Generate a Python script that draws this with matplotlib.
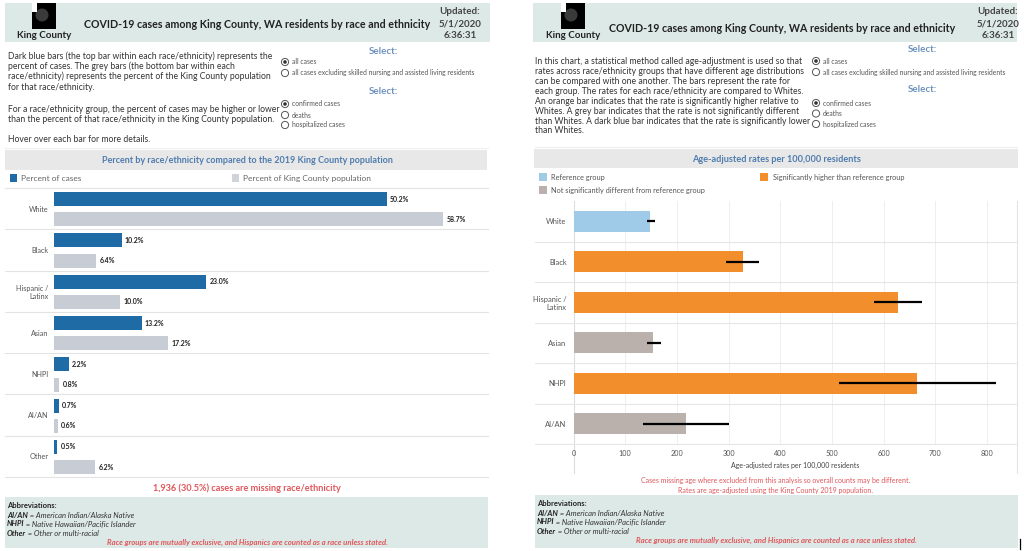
import matplotlib
matplotlib.use("Agg")
import matplotlib.pyplot as plt
from matplotlib.patches import Rectangle, Circle

plt.rcParams["font.family"] = ["Lato", "DejaVu Sans"]

# ---- data ----
groups_pct = ["White", "Black", "Hispanic /\nLatinx", "Asian", "NHPI", "AI/AN", "Other"]
pct_cases = [50.2, 10.2, 23.0, 13.2, 2.2, 0.7, 0.5]
pct_population = [58.7, 6.4, 10.0, 17.2, 0.8, 0.6, 6.2]

groups_rate = ["White", "Black", "Hispanic /\nLatinx", "Asian", "NHPI", "AI/AN"]
rate = [148, 327, 627, 154, 665, 217]
rate_low = [142, 295, 582, 142, 514, 135]
rate_high = [157, 358, 675, 169, 818, 301]
rate_status = ["ref", "higher", "higher", "ns", "higher", "ns"]

rate_ticks = [0, 100, 200, 300, 400, 500, 600, 700, 800]

W, H = 1024, 551
BLUE = "#1f6ba5"
GREY_BAR = "#c7ccd5"
ORANGE = "#f28e2b"
LIGHT_BLUE = "#a0cbe8"
TAUPE = "#bab0ac"
HEADER = "#dde9e6"
BAND = "#e8e8e8"
TITLE_BLUE = "#4f7cae"
SELECT_BLUE = "#6f93bd"
RED = "#e0565b"
TXT = "#333333"
STATUS_COLORS = {"ref": LIGHT_BLUE, "higher": ORANGE, "ns": TAUPE}

fig = plt.figure(figsize=(W / 100, H / 100), dpi=100)
bg = fig.add_axes([0, 0, 1, 1])
bg.set_xlim(0, W)
bg.set_ylim(H, 0)
bg.axis("off")


def px_axes(x0, y0, x1, y1):
    """Axes from pixel box (top-left origin)."""
    ax = fig.add_axes([x0 / W, 1 - y1 / H, (x1 - x0) / W, (y1 - y0) / H])
    ax.patch.set_alpha(0)
    return ax


def rect(x0, y0, x1, y1, color):
    bg.add_patch(Rectangle((x0, y0), x1 - x0, y1 - y0, color=color, lw=0))


def txt(x, y, s, **kw):
    kw.setdefault("va", "center")
    kw.setdefault("color", TXT)
    return bg.text(x, y, s, **kw)


renderer = fig.canvas.get_renderer()


def mixed(x, y, parts, size):
    """Write consecutive text pieces with different styles on one line."""
    for s, style in parts:
        t = txt(x, y, s, fontsize=size, **style)
        bb = t.get_window_extent(renderer=renderer)
        x += bb.width * 100 / fig.dpi


def header(x0, x1, logo_x, title_x, upd_x, title_y):
    rect(x0, 3, x1, 42, HEADER)
    rect(logo_x - 12, 3, logo_x + 12, 29, "black")
    bg.add_patch(Circle((logo_x - 2, 15), 6.5, color="#3a3a3a", lw=0))
    rect(logo_x - 12, 3, logo_x - 7, 12, "white")
    txt(logo_x, 36, "King County", fontsize=7, fontweight="bold", ha="center", color="#222222")
    txt(title_x, title_y, "COVID-19 cases among King County, WA residents by race and ethnicity",
        fontsize=7.7, fontweight="bold", ha="center", color="#222222")
    for yy, s in zip([12, 24, 35], ["Updated:", "5/1/2020", "6:36:31"]):
        txt(upd_x, yy, s, fontsize=7.0, fontweight="bold", ha="center", color="#444444")


def radios(x, ys, labels, sel_x, sel_y):
    txt(sel_x, sel_y, "Select:", fontsize=7, fontweight="bold", color=SELECT_BLUE, ha="center")
    for i, (yy, lab) in enumerate(zip(ys, labels)):
        bg.add_patch(Circle((x, yy), 3.6, fill=False, ec="#555555", lw=0.7))
        if i == 0:
            bg.add_patch(Circle((x, yy), 1.8, color="#333333", lw=0))
        txt(x + 7, yy, lab, fontsize=4.9, color="#555555")


def abbreviations(x0, x1, y0, y1, cx):
    rect(x0, y0, x1, y1, HEADER)
    tx = x0 + 2
    txt(tx, y0 + 9, "Abbreviations:", fontsize=5.5, fontweight="bold", color="#222222")
    mixed(tx, y0 + 18, [("AI/AN", dict(fontweight="bold", style="italic", color="#222222")),
                        (" = American Indian/Alaska Native", dict(style="italic", color="#333333"))], 5.5)
    mixed(tx, y0 + 27, [("NHPI", dict(fontweight="bold", style="italic", color="#222222")),
                        (" = Native Hawaiian/Pacific Islander", dict(style="italic", color="#333333"))], 5.5)
    mixed(tx, y0 + 36, [("Other", dict(fontweight="bold", style="italic", color="#222222")),
                        (" = Other or multi-racial", dict(style="italic", color="#333333"))], 5.5)
    txt(cx, y0 + 45, "Race groups are mutually exclusive, and Hispanics are counted as a race unless stated.",
        fontsize=5.6, style="italic", fontweight="bold", color=RED, ha="center")


# ================= LEFT PANEL =================
header(5, 490, 44, 257, 460, 25)
left_desc = [
    (56, "Dark blue bars (the top bar within each race/ethnicity) represents the"),
    (66, "percent of cases. The grey bars (the bottom bar within each"),
    (76.5, "race/ethnicity) represents the percent of the King County population"),
    (87, "for that race/ethnicity."),
    (109, "For a race/ethnicity group, the percent of cases may be higher or lower"),
    (119, "than the percent of that race/ethnicity in the King County population."),
    (140, "Hover over each bar for more details."),
]
for yy, s in left_desc:
    txt(8, yy, s, fontsize=6.2)
radios(285, [62, 73], ["all cases", "all cases excluding skilled nursing and assisted living residents"], 383, 52)
radios(285, [104, 115, 125], ["confirmed cases", "deaths", "hospitalized cases"], 383, 92)
bg.plot([5, 488], [148, 148], color="#eeeeee", lw=0.8)

rect(5, 150, 487, 170, BAND)
txt(247, 160.5, "Percent by race/ethnicity compared to the 2019 King County population",
    fontsize=6.5, fontweight="bold", color=TITLE_BLUE, ha="center")
rect(10, 174, 17, 182, BLUE)
txt(21, 178.5, "Percent of cases", fontsize=6.0, color="#666666")
rect(232, 174, 239, 182, "#cfd3da")
txt(243, 178.5, "Percent of King County population", fontsize=6.0, color="#666666")

# bar chart (0% at x=54, 6.63 px per %)
axL = px_axes(54, 188, 488, 477)
n = len(groups_pct)
ypos = list(range(n))
axL.barh([y - 0.23 for y in ypos], pct_cases, height=0.34, color=BLUE)
axL.barh([y + 0.26 for y in ypos], pct_population, height=0.34, color=GREY_BAR)
for y, v in zip(ypos, pct_cases):
    axL.text(v + 0.5, y - 0.23, f"{v:.1f}%", fontsize=5, fontweight="bold", va="center", color="#222222")
for y, v in zip(ypos, pct_population):
    axL.text(v + 0.5, y + 0.26, f"{v:.1f}%", fontsize=5, fontweight="bold", va="center", color="#222222")
axL.set_xlim(0, (488 - 54) / 6.63)
axL.set_ylim(n - 0.5, -0.5)
for b in [y - 0.5 for y in ypos] + [n - 0.5]:
    axL.axhline(b, xmin=-49 / 434, xmax=1, color="#e3e3e3", lw=0.8, clip_on=False)
axL.set_yticks(ypos)
axL.set_yticklabels(groups_pct, fontsize=5.2, color="#555555", ha="right")
axL.tick_params(axis="y", length=0, pad=4)
axL.set_xticks([])
for sp in axL.spines.values():
    sp.set_visible(False)

txt(247, 488.5, "1,936 (30.5%) cases are missing race/ethnicity", fontsize=6.6, fontweight="bold",
    color=RED, ha="center")
abbreviations(5, 488, 497, 548, 247)

# ================= RIGHT PANEL =================
header(533, 1017, 573, 782, 998, 28)
right_desc = [
    "In this chart, a statistical method called age-adjustment is used so that",
    "rates across race/ethnicity groups that have different age distributions",
    "can be compared with one another. The bars represent the rate for",
    "each group. The rates for each race/ethnicity are compared to Whites.",
    "An orange bar indicates that the rate is significantly higher relative to",
    "Whites. A grey bar indicates that the rate is not significantly different",
    "than Whites. A dark blue bar indicates that the rate is significantly lower",
    "than Whites.",
]
for i, s in enumerate(right_desc):
    txt(535, 62 + i * 9.85, s, fontsize=6.2)
radios(816, [61, 72], ["all cases", "all cases excluding skilled nursing and assisted living residents"], 922, 49)
radios(816, [103, 113.5, 124], ["confirmed cases", "deaths", "hospitalized cases"], 922, 90)
bg.plot([535, 1017], [147, 147], color="#eeeeee", lw=0.8)

rect(534, 149, 1018, 168, BAND)
txt(776, 159, "Age-adjusted rates per 100,000 residents", fontsize=6.6, fontweight="bold",
    color=TITLE_BLUE, ha="center")
rect(539, 173, 547, 181, LIGHT_BLUE)
txt(551, 177.5, "Reference group", fontsize=5.3, color="#555555")
rect(539, 186, 547, 194, TAUPE)
txt(551, 190, "Not significantly different from reference group", fontsize=5.3, color="#555555")
rect(760, 173, 768, 181, ORANGE)
txt(773, 177.5, "Significantly higher than reference group", fontsize=5.3, color="#555555")

# rate chart (0 at x=573.5, 0.517 px per unit)
axR = px_axes(573.5, 201, 1017, 444)
m = len(groups_rate)
ry = list(range(m))
axR.barh(ry, rate, height=0.52, color=[STATUS_COLORS[s] for s in rate_status], zorder=2)
axR.hlines(ry, rate_low, rate_high, color="black", lw=1.6, zorder=3)
axR.set_xlim(0, (1017 - 573.5) / 0.517)
axR.set_ylim(m - 0.5, -0.5)
for t in rate_ticks[1:]:
    axR.axvline(t, color="#efefef", lw=0.7, zorder=0)
for b in [y + 0.5 for y in ry[:-1]]:
    axR.axhline(b, xmin=-38.5 / 443.5, xmax=1, color="#e6e6e6", lw=0.8, clip_on=False)
axR.axhline(m - 0.5, xmin=-38.5 / 443.5, xmax=1, color="#e6e6e6", lw=0.8, clip_on=False)
axR.set_yticks(ry)
axR.set_yticklabels(groups_rate, fontsize=5.4, color="#555555", ha="right")
axR.set_xticks(rate_ticks)
axR.set_xticklabels([str(t) for t in rate_ticks], fontsize=5.2, color="#555555")
axR.tick_params(axis="y", length=0, pad=5)
axR.tick_params(axis="x", length=0, pad=4)
for sp in axR.spines.values():
    sp.set_visible(False)
axR.set_xlabel("Age-adjusted rates per 100,000 residents", fontsize=5.0, color="#444444", labelpad=4)
bg.plot([573.5, 573.5], [201, 473], color="#dddddd", lw=0.8)
bg.plot([1017, 1017], [201, 473], color="#e3e3e3", lw=0.8)

txt(776, 481, "Cases missing age where excluded from this analysis so overall counts may be different.",
    fontsize=5.0, color=RED, ha="center")
txt(776, 490, "Rates are age-adjusted using the King County 2019 population.",
    fontsize=5.0, color=RED, ha="center")
abbreviations(535, 1018, 495, 548, 776)
bg.plot([1020, 1020], [539, 549], color="black", lw=0.9)

fig.savefig("out.png", dpi=100)
